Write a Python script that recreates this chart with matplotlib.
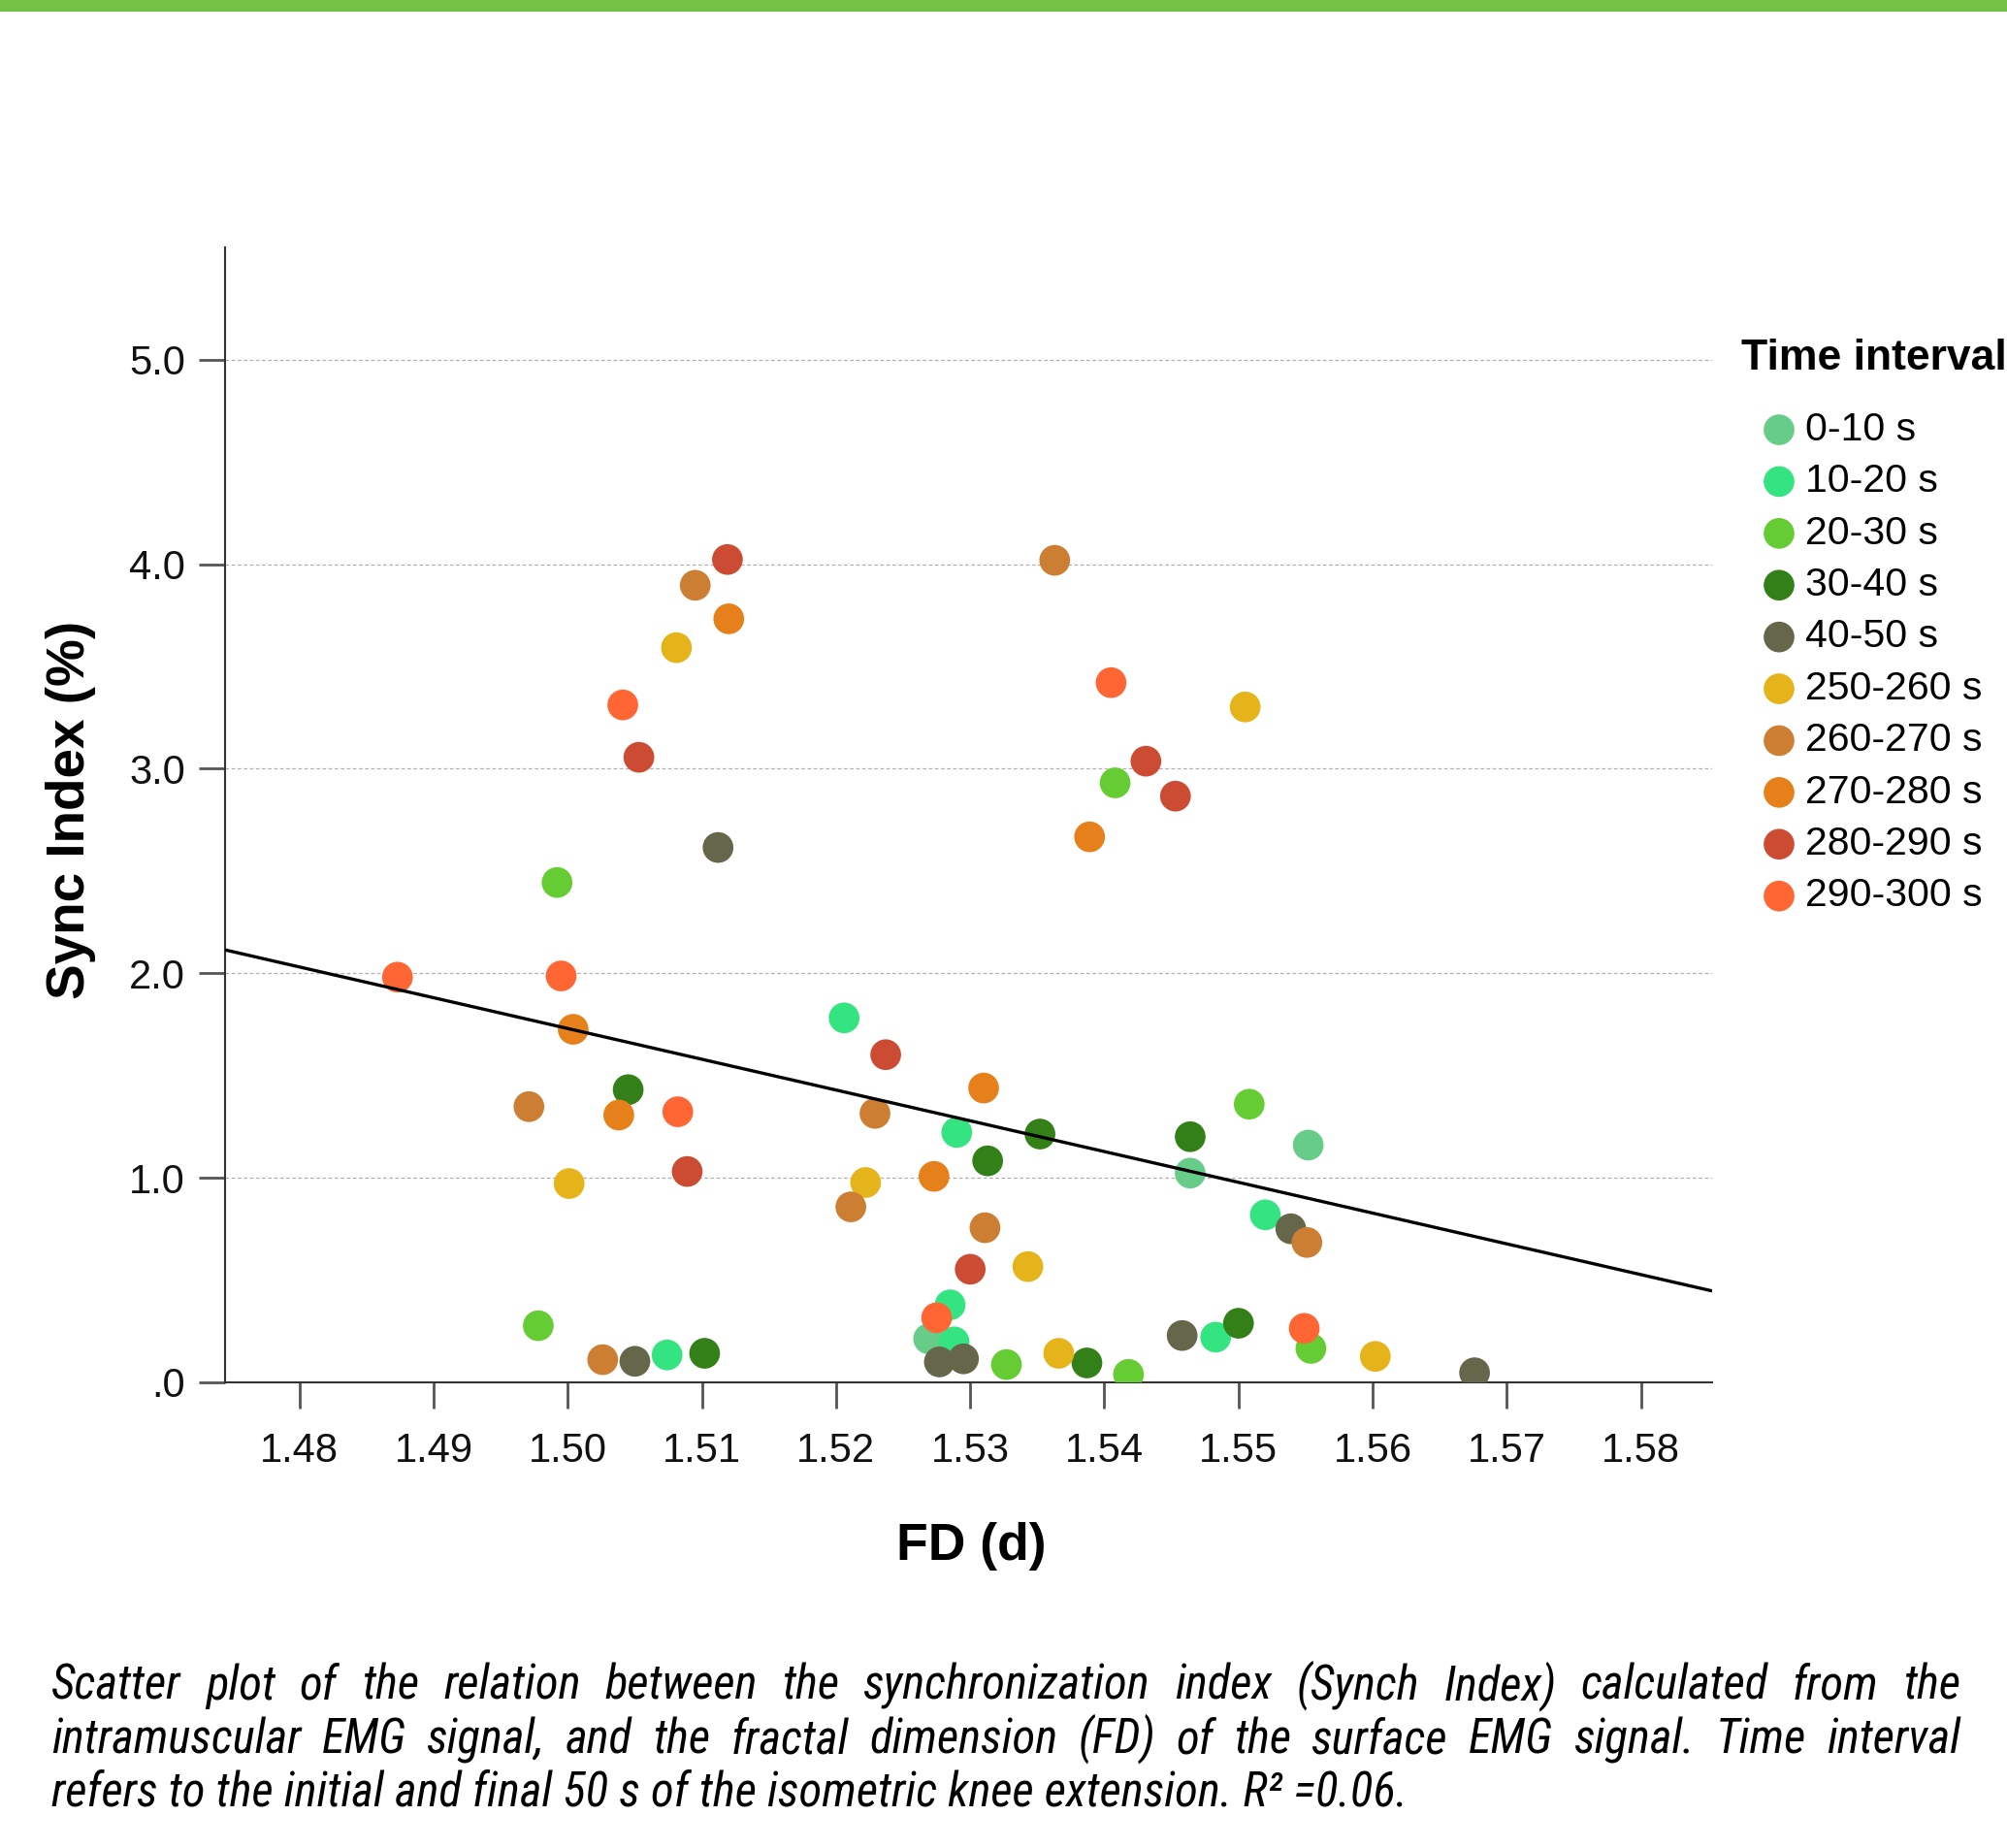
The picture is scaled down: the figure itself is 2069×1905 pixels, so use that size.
import numpy as np
import matplotlib
matplotlib.use("Agg")
import matplotlib.pyplot as plt
from matplotlib.patches import Rectangle
from matplotlib import font_manager as fm

# ---------------- data ----------------
categories = ["0-10 s", "10-20 s", "20-30 s", "30-40 s", "40-50 s",
              "250-260 s", "260-270 s", "270-280 s", "280-290 s", "290-300 s"]
colors = ["#66CC88", "#33E480", "#66CC33", "#338019", "#66664A",
          "#E5B31A", "#CC7F33", "#E5801A", "#CC4C33", "#FF6633"]

fd_0_10 = [1.5269, 1.5464, 1.5552]
si_0_10 = [0.213, 1.023, 1.160]
fd_10_20 = [1.5206, 1.5290, 1.5520, 1.5285, 1.5288, 1.5483, 1.5074]
si_10_20 = [1.782, 1.222, 0.819, 0.379, 0.198, 0.221, 0.134]
fd_20_30 = [1.4992, 1.4978, 1.5408, 1.5508, 1.5327, 1.5418, 1.5554]
si_20_30 = [2.444, 0.277, 2.931, 1.360, 0.087, 0.039, 0.166]
fd_30_40 = [1.5045, 1.5102, 1.5352, 1.5313, 1.5464, 1.5387, 1.5500]
si_30_40 = [1.431, 0.142, 1.214, 1.083, 1.201, 0.095, 0.289]
fd_40_50 = [1.5112, 1.5050, 1.5277, 1.5295, 1.5458, 1.5539, 1.5676]
si_40_50 = [2.615, 0.103, 0.100, 0.115, 0.229, 0.751, 0.047]
fd_250_260 = [1.5081, 1.5001, 1.5505, 1.5222, 1.5343, 1.5366, 1.5602]
si_250_260 = [3.592, 0.972, 3.302, 0.977, 0.566, 0.142, 0.127]
fd_260_270 = [1.5095, 1.4971, 1.5026, 1.5363, 1.5229, 1.5211, 1.5311, 1.5551]
si_260_270 = [3.897, 1.348, 0.111, 4.019, 1.315, 0.858, 0.756, 0.684]
fd_270_280 = [1.5120, 1.5004, 1.5038, 1.5389, 1.5310, 1.5273]
si_270_280 = [3.733, 1.726, 1.307, 2.667, 1.439, 1.007]
fd_280_290 = [1.5119, 1.5053, 1.5089, 1.5431, 1.5453, 1.5237, 1.5300]
si_280_290 = [4.023, 3.056, 1.031, 3.037, 2.866, 1.602, 0.553]
fd_290_300 = [1.5041, 1.4873, 1.4995, 1.5082, 1.5405, 1.5275, 1.5549]
si_290_300 = [3.312, 1.981, 1.987, 1.323, 3.421, 0.316, 0.264]

fd_series = [fd_0_10, fd_10_20, fd_20_30, fd_30_40, fd_40_50,
             fd_250_260, fd_260_270, fd_270_280, fd_280_290, fd_290_300]
si_series = [si_0_10, si_10_20, si_20_30, si_30_40, si_40_50,
             si_250_260, si_260_270, si_270_280, si_280_290, si_290_300]

# fit line: y = a + b * x
fit_intercept = 24.29
fit_slope = -15.04

x_ticks = [1.48, 1.49, 1.50, 1.51, 1.52, 1.53, 1.54, 1.55, 1.56, 1.57, 1.58]
x_tick_labels = ["1.48", "1.49", "1.50", "1.51", "1.52", "1.53", "1.54",
                 "1.55", "1.56", "1.57", "1.58"]
y_ticks = [0, 1, 2, 3, 4, 5]
y_tick_labels = [".0", "1.0", "2.0", "3.0", "4.0", "5.0"]

caption_lines = [
    "Scatter plot of the relation between the synchronization index (Synch Index) calculated from the",
    "intramuscular EMG signal, and the fractal dimension (FD) of the surface EMG signal. Time interval",
    "refers to the initial and final 50 s of the isometric knee extension. R\u00b2 =0.06.",
]

# ---------------- figure ----------------
W, H = 2069, 1905
plt.rcParams['font.family'] = ['Liberation Sans', 'DejaVu Sans']
fig = plt.figure(figsize=(W / 100, H / 100), dpi=100)
fig.patch.set_facecolor("white")

# top green bar
fig.add_artist(Rectangle((0, 1 - 12 / H), 1, 12 / H, transform=fig.transFigure,
                         facecolor="#74C244", edgecolor="none"))

ax_left, ax_right, ax_bottom, ax_top = 232, 1765, 1425, 255
ax = fig.add_axes([ax_left / W, 1 - ax_bottom / H,
                   (ax_right - ax_left) / W, (ax_bottom - ax_top) / H])

handles = []
for fd, si, col, lab in zip(fd_series, si_series, colors, categories):
    h = ax.scatter(fd, si, s=520, c=col, edgecolors="none", label=lab, zorder=3)
    handles.append(h)

xlim = (1.474446, 1.58531)
ylim = (0, 5.549)
xs = np.array(xlim)
ax.plot(xs, fit_intercept + fit_slope * xs, color="black", lw=2.4, zorder=4,
        solid_capstyle="butt")
ax.set_xlim(*xlim)
ax.set_ylim(*ylim)

ax.set_xticks(x_ticks)
ax.set_xticklabels(x_tick_labels)
ax.set_yticks(y_ticks)
ax.set_yticklabels(y_tick_labels)

for side in ["top", "right"]:
    ax.spines[side].set_visible(False)
for side in ["left", "bottom"]:
    ax.spines[side].set_color("#333333")
    ax.spines[side].set_linewidth(1.5)

ax.tick_params(axis="both", direction="out", length=19.5, width=2.0,
               color="#555555", labelsize=30, labelcolor="#111111")
ax.tick_params(axis="x", pad=17)
ax.tick_params(axis="y", pad=10)

ax.yaxis.grid(True, linestyle=(0, (3, 2)), color="#b0b0b0", linewidth=0.9)
ax.set_axisbelow(True)

ax.set_xlabel("FD (d)", fontsize=38.5, fontweight="bold", va="baseline")
ax.xaxis.set_label_coords(0.5016, -0.1564)
ax.set_ylabel("Sync Index (%)", fontsize=39.5, fontweight="bold", va="baseline")
ax.yaxis.set_label_coords(-0.0946, 0.504)

leg_fs = 29.5
leg_fs_px = leg_fs * 100 / 72
leg = fig.legend(handles=handles, labels=categories, loc="upper left",
                 bbox_to_anchor=(1795 / W, 1 - 349 / H), frameon=False,
                 fontsize=leg_fs, title="Time interval",
                 title_fontproperties={"weight": "bold", "size": 32},
                 alignment="left", borderpad=0, borderaxespad=0,
                 handlelength=78 / leg_fs_px, handletextpad=-0.29,
                 labelspacing=0.376, scatterpoints=1)
# extra gap between title and the entries
leg._legend_box.sep = 0.36 * leg_fs + 13.7

# ---------------- caption ----------------
def pick_caption_font():
    entries = fm.fontManager.ttflist
    for f in entries:
        if f.name in ("Liberation Sans Narrow", "Arial Narrow") and f.style in ("italic", "oblique") \
                and f.weight in (400, "normal", "regular"):
            return fm.FontProperties(fname=f.fname)
    pref = ["Liberation Sans", "Roboto", "Open Sans", "Noto Sans", "Lato", "DejaVu Sans", "Inter"]
    cands = [f for f in entries
             if (("condensed" in str(f.stretch)) or ("Condensed" in f.name) or ("Narrow" in f.name))
             and "extra" not in str(f.stretch) and "ultra" not in str(f.stretch)
             and f.style in ("italic", "oblique") and f.weight in (400, "normal", "regular")]
    for p in pref:
        for f in cands:
            if f.name.startswith(p):
                return fm.FontProperties(fname=f.fname)
    if cands:
        return fm.FontProperties(fname=cands[0].fname)
    return fm.FontProperties(family="Liberation Sans", style="italic")

cap_fp = pick_caption_font()
renderer = fig.canvas.get_renderer()
x0, x1 = 53, 2021
baselines = [1752, 1807, 1862]

fp = cap_fp.copy()
fp.set_size(25)
t3 = fig.text(x0 / W, 1 - baselines[2] / H, caption_lines[2], fontproperties=fp,
              va="baseline", ha="left", color="black")
w3 = t3.get_window_extent(renderer).width
cap_fs = 25 * 1398 / w3
fp3 = cap_fp.copy()
fp3.set_size(cap_fs)
t3.set_fontproperties(fp3)

for line, yb in zip(caption_lines[:2], baselines[:2]):
    words = line.split(" ")
    texts = [fig.text(0, 1 - yb / H, w, fontproperties=fp3,
                      va="baseline", ha="left", color="black")
             for w in words]
    widths = [t.get_window_extent(renderer).width for t in texts]
    gap = (x1 - x0 - sum(widths)) / (len(words) - 1)
    x = x0
    for t, wd in zip(texts, widths):
        t.set_x(x / W)
        x += wd + gap

fig.savefig("out.png", dpi=100, facecolor="white")
